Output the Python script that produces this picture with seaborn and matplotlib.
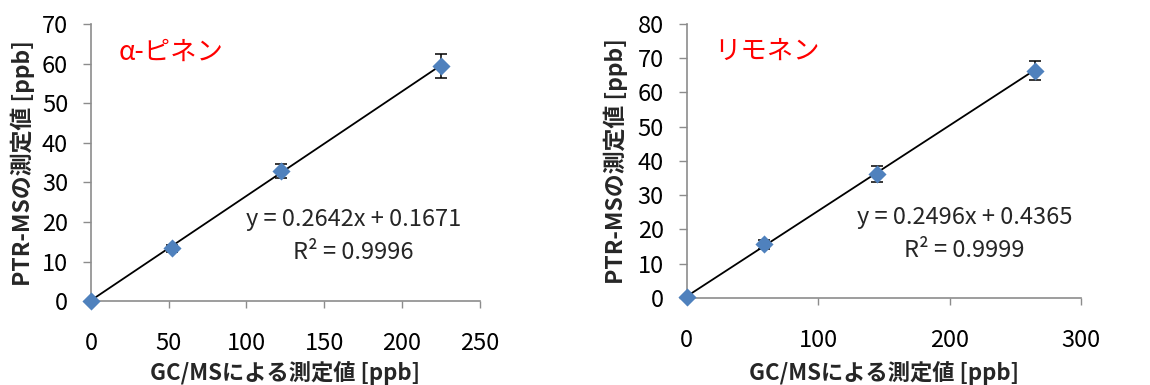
import numpy as np
import pandas as pd
import matplotlib
matplotlib.use("Agg")
import matplotlib.pyplot as plt
import seaborn as sns

# α-pinene calibration
pinene_gcms = [0, 52, 122, 225]
pinene_ptr = [0.0, 13.3, 32.8, 59.5]
pinene_err = [0.0, 1.0, 1.8, 3.1]
pinene_slope, pinene_icpt, pinene_r2 = 0.2642, 0.1671, 0.9996

# limonene calibration
limonene_gcms = [0, 59, 145, 265]
limonene_ptr = [0.3, 15.7, 36.2, 66.3]
limonene_err = [0.0, 1.3, 2.3, 2.8]
limonene_slope, limonene_icpt, limonene_r2 = 0.2496, 0.4365, 0.9999

pinene_xticks = [0, 50, 100, 150, 200, 250]
pinene_yticks = [0, 10, 20, 30, 40, 50, 60, 70]
limonene_xticks = [0, 100, 200, 300]
limonene_yticks = [0, 10, 20, 30, 40, 50, 60, 70, 80]

sns.set_theme(style="white")
plt.rcParams["font.family"] = ["Noto Sans CJK JP", "DejaVu Sans"]

MARK = "#4F81BD"
SPINE = "#8C8C8C"

fig = plt.figure(figsize=(11.5, 3.85), dpi=100)
ax1 = fig.add_axes([0.0791, 0.218, 0.338, 0.719])
ax2 = fig.add_axes([0.597, 0.226, 0.343, 0.712])


def draw(ax, xs, ys, errs, slope, icpt, r2, xticks, yticks, name, eq_xy, xlab_y, ylab_x):
    df = pd.DataFrame({"x": xs, "y": ys})
    # trend line from the fitted coefficients over the data range
    fit = pd.DataFrame({"x": [min(xs), max(xs)]})
    fit["y"] = slope * fit["x"] + icpt
    sns.lineplot(data=fit, x="x", y="y", ax=ax, color="black", lw=1.3, zorder=2)
    ax.errorbar(xs, ys, yerr=errs, fmt="none", ecolor="black", elinewidth=1.1,
                capsize=4, capthick=1.1, zorder=3)
    sns.scatterplot(data=df, x="x", y="y", ax=ax, marker="D", s=85, color=MARK,
                    edgecolor=MARK, linewidth=0, zorder=4, clip_on=False)
    ax.set_xlim(xticks[0], xticks[-1])
    ax.set_ylim(yticks[0], yticks[-1])
    ax.set_xticks(xticks)
    ax.set_yticks(yticks)
    ax.tick_params(axis="x", direction="out", length=5, width=1, color=SPINE,
                   pad=17, labelsize=17, labelcolor="black", bottom=True)
    ax.tick_params(axis="y", direction="out", length=6, width=1, color=SPINE,
                   pad=10.5, labelsize=17, labelcolor="black", left=True)
    for s in ("top", "right"):
        ax.spines[s].set_visible(False)
    for s in ("left", "bottom"):
        ax.spines[s].set_color(SPINE)
        ax.spines[s].set_linewidth(1.2)
    ax.set_xlabel("GC/MSによる測定値 [ppb]", fontsize=16, fontweight="bold")
    ax.set_ylabel("PTR-MSの測定値 [ppb]", fontsize=16.5, fontweight="bold")
    ax.xaxis.label.set_va("center")
    ax.yaxis.label.set_va("center")
    ax.xaxis.set_label_coords(0.5, xlab_y)
    ax.yaxis.set_label_coords(ylab_x, 0.5)
    ax.text(0.07, 0.90, name, transform=ax.transAxes, color="red", fontsize=19,
            ha="left", va="center")
    ex, ey = eq_xy
    ax.text(ex, ey, f"y = {slope:.4f}x + {icpt:.4f}", transform=ax.transAxes,
            fontsize=17, ha="center", va="center")
    ax.text(ex, ey - 0.12, f"R² = {r2:.4f}", transform=ax.transAxes,
            fontsize=17, ha="center", va="center")


draw(ax1, pinene_gcms, pinene_ptr, pinene_err, pinene_slope, pinene_icpt, pinene_r2,
     pinene_xticks, pinene_yticks, "α-ピネン", (0.676, 0.295), -0.26, -0.175)
draw(ax2, limonene_gcms, limonene_ptr, limonene_err, limonene_slope, limonene_icpt,
     limonene_r2, limonene_xticks, limonene_yticks, "リモネン", (0.705, 0.295), -0.274, -0.18)

fig.savefig("out.png", dpi=100)
